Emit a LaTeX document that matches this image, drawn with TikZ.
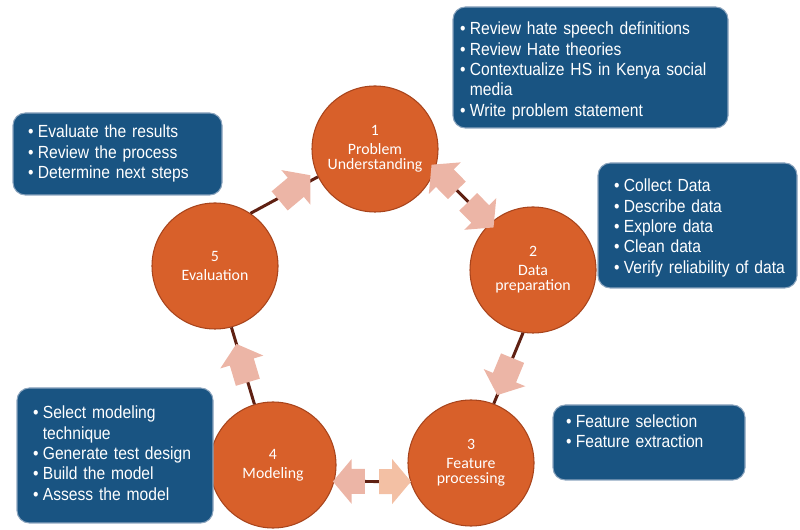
\documentclass[tikz,border=0pt]{standalone}
\usepackage{fontspec}
\setmainfont{Liberation Sans}[FakeStretch=0.89]
\newfontfamily\phasefont{Carlito}
\usetikzlibrary{shapes.arrows}
\definecolor{phaseorange}{RGB}{216,96,42}
\definecolor{phaseedge}{RGB}{168,68,28}
\definecolor{notebg}{RGB}{25,84,130}
\definecolor{noteedge}{RGB}{140,165,190}
\definecolor{arrowpink}{RGB}{236,181,166}
\definecolor{arrowpeach}{RGB}{243,192,164}
\definecolor{linkbrown}{RGB}{95,32,18}
\newcommand{\tasklist}[1]{\begin{tabular}{@{}l@{\hspace{2.5pt}}l@{}}#1\end{tabular}}

\begin{document}
\begin{tikzpicture}[
    phase/.style={circle, draw=phaseedge, line width=0.6pt, fill=phaseorange, minimum size=2.52cm, inner sep=0pt, text=white, align=center, font=\phasefont\fontsize{9}{8.6}\selectfont},
    note/.style={draw=noteedge, line width=0.6pt, fill=notebg, rounded corners=7pt, text=white, align=left, inner xsep=0.3cm, inner ysep=0pt, font=\fontsize{10}{11.6}\selectfont},
    link/.style={draw=linkbrown, line width=1.7pt},
    flow/.style={single arrow, fill=arrowpink, draw=none, inner ysep=0.22cm, inner xsep=0pt, single arrow head extend=0.2cm, single arrow tip angle=100, minimum height=0.8cm, allow upside down}
]
\useasboundingbox (0,0) rectangle (16,10.6);

% Phases of the cycle
\node[phase] (c1) at (7.50,7.62) {1\\[2pt]Problem\\Understanding};
\node[phase] (c2) at (10.66,5.20) {2\\[2pt]Data\\preparation};
\node[phase] (c3) at (9.42,1.34) {3\\[2pt]Feature\\processing};
\node[phase] (c4) at (5.46,1.30) {4\\[2pt]Modeling};
\node[phase] (c5) at (4.30,5.28) {5\\[2pt]Evaluation};

% Links between phases
\draw[link] (c5.56) -- (c1.206) node[flow, pos=0.6, rotate=40] (a51) {};
\draw[link] (c1.-18) -- (c2.133)
    node[flow, pos=0.23, sloped, rotate=180, minimum height=0.72cm] (a21) {}
    node[flow, pos=0.77, sloped, minimum height=0.72cm] (a12) {};
\draw[link] (c2.261) -- (c3.69) node[flow, pos=0.55, sloped] (a23) {};
\draw[link] (c4.-15) -- (c3.197)
    node[flow, pos=0.26, rotate=180, minimum height=0.64cm] (a34) {}
    node[flow, fill=arrowpeach, pos=0.73, minimum height=0.64cm] (a43) {};
\draw[link] (c4.107) -- (c5.285) node[flow, pos=0.47, sloped] (a45) {};

% Task boxes
\node[note, text width=5.22cm, inner xsep=0.14cm, minimum height=2.42cm] (b1) at (11.81,9.25) {\tasklist{
    \textbullet & \rule{0pt}{12.6pt}Review hate speech definitions\\
    \textbullet & Review Hate theories\\
    \textbullet & Contextualize HS in Kenya social\\
                & media\\
    \textbullet & Write problem statement}};
\node[note, text width=3.34cm, inner xsep=0.32cm, minimum height=2.5cm] (b2) at (13.95,6.09) {\tasklist{
    \textbullet & \rule{0pt}{11.5pt}Collect Data\\
    \textbullet & Describe data\\
    \textbullet & Explore data\\
    \textbullet & Clean data\\
    \textbullet & Verify reliability of data}};
\node[note, text width=3.32cm, inner xsep=0.26cm, minimum height=1.5cm] (b3) at (12.98,1.75) {\tasklist{
    \textbullet & Feature selection\\
    \textbullet & Feature extraction\\[10pt]}};
\node[note, text width=3.28cm, inner xsep=0.32cm, minimum height=2.7cm] (b4) at (2.30,1.49) {\tasklist{
    \textbullet & Select modeling\\
                & technique\\
    \textbullet & Generate test design\\
    \textbullet & Build the model\\
    \textbullet & Assess the model}};
\node[note, text width=3.58cm, inner xsep=0.3cm, minimum height=1.64cm] (b5) at (2.35,7.52) {\tasklist{
    \textbullet & Evaluate the results\\
    \textbullet & Review the process\\
    \textbullet & Determine next steps}};
\end{tikzpicture}
\end{document}
